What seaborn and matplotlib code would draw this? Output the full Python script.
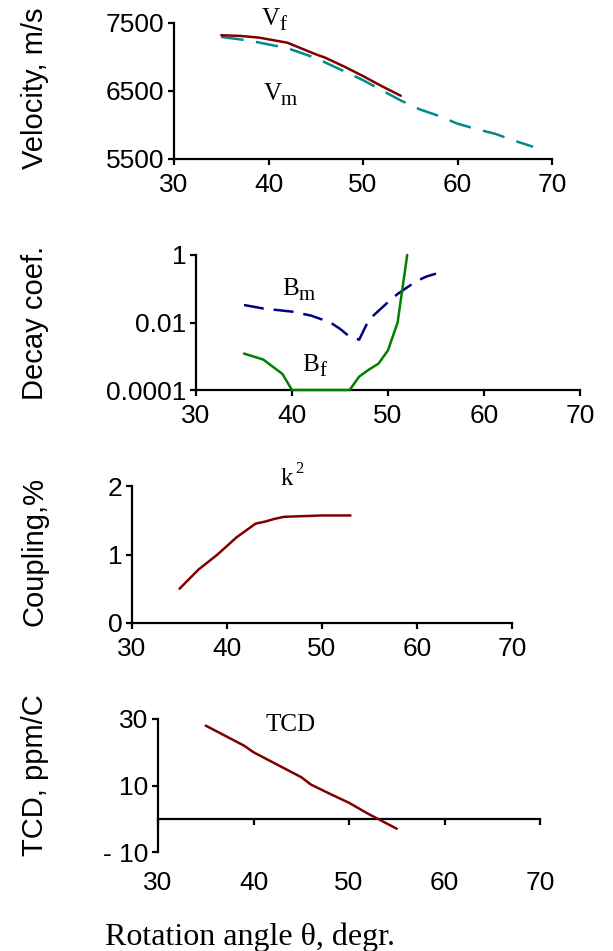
import matplotlib
matplotlib.use("Agg")
import matplotlib.pyplot as plt
import seaborn as sns

# values
vf_angle = [35, 37, 39, 42, 45, 46, 48, 50, 52, 54]
vf_vel = [7320, 7310, 7285, 7210, 7040, 6990, 6860, 6720, 6570, 6430]
vm_angle = [35, 38, 42, 45, 48, 50, 52, 54, 56, 58, 60, 62, 64, 66, 68]
vm_vel = [7295, 7240, 7130, 6985, 6790, 6660, 6510, 6360, 6230, 6135, 6020, 5940, 5870, 5770, 5680]

bm_angle = [35, 37, 40, 42, 44, 45, 46, 47, 48, 49, 50, 51, 52, 53, 54, 55]
bm_decay = [0.033, 0.026, 0.021, 0.016, 0.010, 0.0065, 0.0038, 0.0031, 0.012, 0.022, 0.04,
            0.07, 0.11, 0.17, 0.23, 0.28]
bf_angle = [35, 37, 39, 40, 46, 47, 48, 49, 50, 51, 52]
bf_decay = [0.0012, 0.0008, 0.0003, 0.0001, 0.0001, 0.00025, 0.0004, 0.0006, 0.0015, 0.01, 1.0]

k2_angle = [35, 37, 39, 41, 43, 44, 45, 46, 48, 50, 53]
k2_pct = [0.5, 0.78, 1.0, 1.25, 1.45, 1.48, 1.52, 1.55, 1.56, 1.57, 1.57]

tcd_angle = [35, 37, 39, 40, 42, 44, 45, 46, 48, 50, 52, 53, 55]
tcd_ppm = [28, 25, 22, 20, 17, 14, 12.5, 10.3, 7.5, 4.8, 1.5, 0, -3]

x_ticks = [30, 40, 50, 60, 70]

sns.set_style("ticks")
plt.rcParams['font.family'] = ['Liberation Sans', 'DejaVu Sans']
plt.rcParams['text.color'] = 'black'

W, H = 613, 951
fig = plt.figure(figsize=(W / 100, H / 100), dpi=100)


def box(left, top, right, bottom):
    return [left / W, 1 - bottom / H, (right - left) / W, (bottom - top) / H]


def ftext(x, y, s, **kw):
    fig.text(x / W, 1 - y / H, s, **kw)


def sub_label(x, y, main, sub):
    # Times-style label with a lowered, slightly smaller index
    ftext(x, y, main, fontsize=18, family=serif)
    ftext(x + 17, y + 5, sub, fontsize=15, family=serif)


DARKRED = '#800000'
tick_fs = 19
serif = ['Liberation Serif', 'DejaVu Serif']


def style(ax):
    sns.despine(ax=ax)
    for sp in ['left', 'bottom']:
        ax.spines[sp].set_linewidth(1.6)
        ax.spines[sp].set_color('black')
    ax.tick_params(length=4, width=1.6, pad=3, labelsize=tick_fs, color='black',
                   labelcolor='black')
    ax.set_xlim(30, 70)
    ax.set_xticks(x_ticks)
    ax.set_xlabel('')
    ax.set_ylabel('')


# panel 1: velocity
ax1 = fig.add_axes(box(174, 23, 552, 159))
sns.lineplot(x=vm_angle, y=vm_vel, ax=ax1, color='#008B8B', linewidth=1.8,
             linestyle=(0, (9, 5)))
sns.lineplot(x=vf_angle, y=vf_vel, ax=ax1, color=DARKRED, linewidth=1.8)
style(ax1)
ax1.set_ylim(5500, 7500)
ax1.set_yticks([5500, 6500, 7500])
ax1.tick_params(axis='x', pad=6)
sub_label(262, 25, 'V', 'f')
sub_label(264, 100, 'V', 'm')
ftext(35, 88, 'Velocity, m/s', fontsize=21, rotation=90, ha='center', va='center')

# panel 2: decay coefficient
ax2 = fig.add_axes(box(196, 255, 580, 390))
sns.lineplot(x=bm_angle, y=bm_decay, ax=ax2, color='#000080', linewidth=1.8,
             linestyle=(0, (8, 4)))
sns.lineplot(x=bf_angle, y=bf_decay, ax=ax2, color='#008000', linewidth=1.8,
             clip_on=False, zorder=5)
ax2.set_yscale('log')
style(ax2)
ax2.set_ylim(1e-4, 1)
ax2.set_yticks([1e-4, 1e-2, 1])
ax2.set_yticklabels(['0.0001', '0.01', '1'])
ax2.minorticks_off()
ax2.tick_params(axis='x', pad=6)
sub_label(282, 295, 'B', 'm')
sub_label(302, 371, 'B', 'f')
ftext(35, 323, 'Decay coef.', fontsize=21, rotation=90, ha='center', va='center')

# panel 3: coupling
ax3 = fig.add_axes(box(132, 486, 512, 623))
sns.lineplot(x=k2_angle, y=k2_pct, ax=ax3, color=DARKRED, linewidth=1.8)
style(ax3)
ax3.set_ylim(0, 2)
ax3.set_yticks([0, 1, 2])
ax3.tick_params(axis='x', pad=6)
ftext(281, 485, 'k', fontsize=18, family=serif)
ftext(295, 473, '2', fontsize=12, family=serif)
ftext(35, 551, 'Coupling,%', fontsize=21, rotation=90, ha='center', va='center')

# panel 4: temperature coefficient of delay
ax4 = fig.add_axes(box(158, 719, 540, 852))
sns.lineplot(x=tcd_angle, y=tcd_ppm, ax=ax4, color=DARKRED, linewidth=1.8)
style(ax4)
ax4.set_ylim(-10, 30)
ax4.set_yticks([-10, 10, 30])
ax4.set_yticklabels(['- 10', '10', '30'])
ax4.spines['bottom'].set_visible(False)
ax4.tick_params(axis='x', length=0, pad=14)
zero_axis = ax4.secondary_xaxis(0.25)
zero_axis.set_xticks(x_ticks)
zero_axis.set_xticklabels([])
zero_axis.tick_params(length=4, width=1.6, direction='out', color='black')
zero_axis.spines['bottom'].set_linewidth(1.6)
zero_axis.spines['bottom'].set_color('black')
ftext(265, 731, 'TCD', fontsize=18, family=serif)
ftext(35, 775, 'TCD, ppm/C', fontsize=21, rotation=90, ha='center', va='center')

ftext(105, 945, 'Rotation angle θ, degr.', fontsize=23, family=serif)

fig.savefig('out.png', dpi=100)
